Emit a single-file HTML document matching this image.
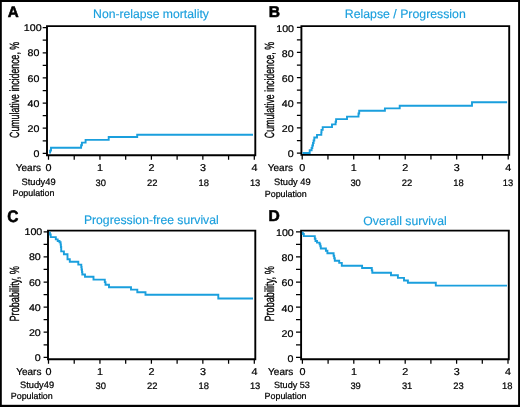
<!DOCTYPE html>
<html><head><meta charset="utf-8"><style>
html,body{margin:0;padding:0;background:#fff;width:520px;height:407px;overflow:hidden}
svg{display:block;will-change:transform}
text{font-family:"Liberation Sans",sans-serif;text-rendering:geometricPrecision}
</style></head><body>
<svg width="520" height="407" viewBox="0 0 520 407">
<rect width="520" height="407" fill="#fff"/>
<rect x="0" y="0" width="520" height="2.0" fill="#000"/>
<rect x="0" y="404.8" width="520" height="2.2" fill="#000"/>
<rect x="0" y="0" width="1.8" height="407" fill="#000"/>
<rect x="518.1" y="0" width="1.9" height="407" fill="#000"/>
<path d="M47.00 155.20V26.10H255.30V155.20Z" fill="none" stroke="#000" stroke-width="1.9" stroke-linejoin="miter"/>
<path d="M42.70 153.40H47.00M42.70 140.82H47.00M42.70 128.24H47.00M42.70 115.66H47.00M42.70 103.08H47.00M42.70 90.50H47.00M42.70 77.92H47.00M42.70 65.34H47.00M42.70 52.76H47.00M42.70 40.18H47.00M42.70 27.60H47.00M48.50 155.20V159.70M74.22 155.20V159.70M99.95 155.20V159.70M125.68 155.20V159.70M151.40 155.20V159.70M177.12 155.20V159.70M202.85 155.20V159.70M228.58 155.20V159.70M254.30 155.20V159.70" fill="none" stroke="#000" stroke-width="1.25"/>
<path d="M301.40 154.90V26.10H509.20V154.90Z" fill="none" stroke="#000" stroke-width="1.9" stroke-linejoin="miter"/>
<path d="M296.90 153.10H301.40M296.90 140.52H301.40M296.90 127.94H301.40M296.90 115.36H301.40M296.90 102.78H301.40M296.90 90.20H301.40M296.90 77.62H301.40M296.90 65.04H301.40M296.90 52.46H301.40M296.90 39.88H301.40M296.90 27.30H301.40M302.20 154.90V159.60M327.95 154.90V159.60M353.70 154.90V159.60M379.45 154.90V159.60M405.20 154.90V159.60M430.95 154.90V159.60M456.70 154.90V159.60M482.45 154.90V159.60M508.20 154.90V159.60" fill="none" stroke="#000" stroke-width="1.25"/>
<path d="M48.00 359.20V230.60H255.30V359.20Z" fill="none" stroke="#000" stroke-width="1.9" stroke-linejoin="miter"/>
<path d="M43.60 357.30H48.00M43.60 344.75H48.00M43.60 332.20H48.00M43.60 319.65H48.00M43.60 307.10H48.00M43.60 294.55H48.00M43.60 282.00H48.00M43.60 269.45H48.00M43.60 256.90H48.00M43.60 244.35H48.00M43.60 231.80H48.00M48.50 359.20V363.80M74.22 359.20V363.80M99.95 359.20V363.80M125.68 359.20V363.80M151.40 359.20V363.80M177.12 359.20V363.80M202.85 359.20V363.80M228.58 359.20V363.80M254.30 359.20V363.80" fill="none" stroke="#000" stroke-width="1.25"/>
<path d="M301.10 359.20V230.60H508.80V359.20Z" fill="none" stroke="#000" stroke-width="1.9" stroke-linejoin="miter"/>
<path d="M296.00 357.30H301.10M296.00 344.75H301.10M296.00 332.20H301.10M296.00 319.65H301.10M296.00 307.10H301.10M296.00 294.55H301.10M296.00 282.00H301.10M296.00 269.45H301.10M296.00 256.90H301.10M296.00 244.35H301.10M296.00 231.80H301.10M302.40 359.20V363.80M328.10 359.20V363.80M353.80 359.20V363.80M379.50 359.20V363.80M405.20 359.20V363.80M430.90 359.20V363.80M456.60 359.20V363.80M482.30 359.20V363.80M508.00 359.20V363.80" fill="none" stroke="#000" stroke-width="1.25"/>
<path d="M50.1 153.4V150.6H51.0V147.7H81.1V145.3H81.9V142.6H85.6V139.9H108.7V137.0H137.2V134.8H253" fill="none" stroke="#1a9fdd" stroke-width="1.9" stroke-linejoin="miter" stroke-linecap="butt"/>
<path d="M302.5 153.0H309.7V150.2H311.6V148H312.3V145.5H313V143H313.6V140.5H314.3V137.5H317V134.9H321.3V132.4H321.5V129.9H322.7V127.1H332V124.4H335.6V121.8H336.1V119.1H347V116.6H358.5V113.5H359.2V110.8H384.9V108.4H399.7V105.8H472V102.2H507.1" fill="none" stroke="#1a9fdd" stroke-width="1.9" stroke-linejoin="miter" stroke-linecap="butt"/>
<path d="M49.9 231.8V234.5H50.7V237.1H55.8V239.4H57.7V241.0H59.5V242.3H60.6V244.5H60.9V247H61.2V251.4H63.9V254.2H67.5V259.2H69.8V261.8H78.3V264.6H81.3V267H81.6V269.5H82V272H82.3V274.5H85V276.8H93.5V279.6H104.8V282.1H105.5V284.8H109V287.3H131V289.6H137.3V292.2H145.5V294.8H218.3V298.5H253" fill="none" stroke="#1a9fdd" stroke-width="1.9" stroke-linejoin="miter" stroke-linecap="butt"/>
<path d="M302.8 231.8V234H303.8V236.1H314.8V238.8H315.5V241H317V242.6H319.6V244.2H320.3V246.3H320.8V248.5H325.9V250.8H327.4V253.3H333.6V255.8H334.2V258.2H334.8V260.7H339.2V262.9H341.8V265.8H362.1V268.0H371.8V270.4H372.3V272.8H391V275.2H397.9V277.9H404V280.5H407.9V282.8H435.8V285.6H507" fill="none" stroke="#1a9fdd" stroke-width="1.9" stroke-linejoin="miter" stroke-linecap="butt"/>
<text x="7.8" y="17.3" font-size="15.2" text-anchor="start" fill="#000" font-weight="bold" stroke="#000" stroke-width="0.6" stroke-linejoin="round">A</text>
<text x="268.8" y="17.1" font-size="15.6" text-anchor="start" fill="#000" font-weight="bold" stroke="#000" stroke-width="0.6" stroke-linejoin="round">B</text>
<text transform="translate(7.3 221.9) scale(0.93 1)" font-size="16.6" text-anchor="start" fill="#000" font-weight="bold" stroke="#000" stroke-width="0.6" stroke-linejoin="round">C</text>
<text x="268.5" y="221.1" font-size="15.6" text-anchor="start" fill="#000" font-weight="bold" stroke="#000" stroke-width="0.6" stroke-linejoin="round">D</text>
<text x="151.0" y="17.9" font-size="12.2" text-anchor="middle" fill="#1a9fdd" stroke="#1a9fdd" stroke-width="0.15">Non-relapse mortality</text>
<text x="405.3" y="18.0" font-size="12.3" text-anchor="middle" fill="#1a9fdd" stroke="#1a9fdd" stroke-width="0.15">Relapse / Progression</text>
<text x="151.3" y="223.7" font-size="12.2" text-anchor="middle" fill="#1a9fdd" stroke="#1a9fdd" stroke-width="0.15">Progression-free survival</text>
<text x="405.0" y="224.5" font-size="12.2" text-anchor="middle" fill="#1a9fdd" stroke="#1a9fdd" stroke-width="0.15">Overall survival</text>
<text transform="translate(39.40 157.10) scale(1.1 1)" font-size="9.7" text-anchor="end" fill="#000" stroke="#000" stroke-width="0.22">0</text>
<text transform="translate(39.40 131.94) scale(1.1 1)" font-size="9.7" text-anchor="end" fill="#000" stroke="#000" stroke-width="0.22">20</text>
<text transform="translate(39.40 106.78) scale(1.1 1)" font-size="9.7" text-anchor="end" fill="#000" stroke="#000" stroke-width="0.22">40</text>
<text transform="translate(39.40 81.62) scale(1.1 1)" font-size="9.7" text-anchor="end" fill="#000" stroke="#000" stroke-width="0.22">60</text>
<text transform="translate(39.40 56.46) scale(1.1 1)" font-size="9.7" text-anchor="end" fill="#000" stroke="#000" stroke-width="0.22">80</text>
<text transform="translate(41.60 31.30) scale(1.1 1)" font-size="9.7" text-anchor="end" fill="#000" stroke="#000" stroke-width="0.22">100</text>
<text transform="translate(293.60 157.40) scale(1.1 1)" font-size="9.7" text-anchor="end" fill="#000" stroke="#000" stroke-width="0.22">0</text>
<text transform="translate(293.60 132.24) scale(1.1 1)" font-size="9.7" text-anchor="end" fill="#000" stroke="#000" stroke-width="0.22">20</text>
<text transform="translate(293.60 107.08) scale(1.1 1)" font-size="9.7" text-anchor="end" fill="#000" stroke="#000" stroke-width="0.22">40</text>
<text transform="translate(293.60 81.92) scale(1.1 1)" font-size="9.7" text-anchor="end" fill="#000" stroke="#000" stroke-width="0.22">60</text>
<text transform="translate(293.60 56.76) scale(1.1 1)" font-size="9.7" text-anchor="end" fill="#000" stroke="#000" stroke-width="0.22">80</text>
<text transform="translate(294.00 31.60) scale(1.1 1)" font-size="9.7" text-anchor="end" fill="#000" stroke="#000" stroke-width="0.22">100</text>
<text transform="translate(40.80 360.80) scale(1.1 1)" font-size="9.7" text-anchor="end" fill="#000" stroke="#000" stroke-width="0.22">0</text>
<text transform="translate(40.80 335.70) scale(1.1 1)" font-size="9.7" text-anchor="end" fill="#000" stroke="#000" stroke-width="0.22">20</text>
<text transform="translate(40.80 310.60) scale(1.1 1)" font-size="9.7" text-anchor="end" fill="#000" stroke="#000" stroke-width="0.22">40</text>
<text transform="translate(40.80 285.50) scale(1.1 1)" font-size="9.7" text-anchor="end" fill="#000" stroke="#000" stroke-width="0.22">60</text>
<text transform="translate(40.80 260.40) scale(1.1 1)" font-size="9.7" text-anchor="end" fill="#000" stroke="#000" stroke-width="0.22">80</text>
<text transform="translate(42.30 235.30) scale(1.1 1)" font-size="9.7" text-anchor="end" fill="#000" stroke="#000" stroke-width="0.22">100</text>
<text transform="translate(293.40 361.70) scale(1.1 1)" font-size="9.7" text-anchor="end" fill="#000" stroke="#000" stroke-width="0.22">0</text>
<text transform="translate(293.40 336.60) scale(1.1 1)" font-size="9.7" text-anchor="end" fill="#000" stroke="#000" stroke-width="0.22">20</text>
<text transform="translate(293.40 311.50) scale(1.1 1)" font-size="9.7" text-anchor="end" fill="#000" stroke="#000" stroke-width="0.22">40</text>
<text transform="translate(293.40 286.40) scale(1.1 1)" font-size="9.7" text-anchor="end" fill="#000" stroke="#000" stroke-width="0.22">60</text>
<text transform="translate(293.40 261.30) scale(1.1 1)" font-size="9.7" text-anchor="end" fill="#000" stroke="#000" stroke-width="0.22">80</text>
<text transform="translate(293.80 236.20) scale(1.1 1)" font-size="9.7" text-anchor="end" fill="#000" stroke="#000" stroke-width="0.22">100</text>
<text transform="translate(48.60 171.10) scale(1.08 1)" font-size="10" text-anchor="middle" fill="#000" stroke="#000" stroke-width="0.22">0</text>
<text transform="translate(100.05 171.10) scale(1.08 1)" font-size="10" text-anchor="middle" fill="#000" stroke="#000" stroke-width="0.22">1</text>
<text transform="translate(151.50 171.10) scale(1.08 1)" font-size="10" text-anchor="middle" fill="#000" stroke="#000" stroke-width="0.22">2</text>
<text transform="translate(202.95 171.10) scale(1.08 1)" font-size="10" text-anchor="middle" fill="#000" stroke="#000" stroke-width="0.22">3</text>
<text transform="translate(254.40 171.10) scale(1.08 1)" font-size="10" text-anchor="middle" fill="#000" stroke="#000" stroke-width="0.22">4</text>
<text x="100.75" y="185.70" font-size="9.4" text-anchor="middle" fill="#000" stroke="#000" stroke-width="0.22">30</text>
<text x="152.20" y="185.70" font-size="9.4" text-anchor="middle" fill="#000" stroke="#000" stroke-width="0.22">22</text>
<text x="203.65" y="185.70" font-size="9.4" text-anchor="middle" fill="#000" stroke="#000" stroke-width="0.22">18</text>
<text x="255.10" y="185.70" font-size="9.4" text-anchor="middle" fill="#000" stroke="#000" stroke-width="0.22">13</text>
<text transform="translate(302.30 171.10) scale(1.08 1)" font-size="10" text-anchor="middle" fill="#000" stroke="#000" stroke-width="0.22">0</text>
<text transform="translate(353.80 171.10) scale(1.08 1)" font-size="10" text-anchor="middle" fill="#000" stroke="#000" stroke-width="0.22">1</text>
<text transform="translate(405.30 171.10) scale(1.08 1)" font-size="10" text-anchor="middle" fill="#000" stroke="#000" stroke-width="0.22">2</text>
<text transform="translate(456.80 171.10) scale(1.08 1)" font-size="10" text-anchor="middle" fill="#000" stroke="#000" stroke-width="0.22">3</text>
<text transform="translate(508.30 171.10) scale(1.08 1)" font-size="10" text-anchor="middle" fill="#000" stroke="#000" stroke-width="0.22">4</text>
<text x="355.60" y="185.70" font-size="9.4" text-anchor="middle" fill="#000" stroke="#000" stroke-width="0.22">30</text>
<text x="407.00" y="185.70" font-size="9.4" text-anchor="middle" fill="#000" stroke="#000" stroke-width="0.22">22</text>
<text x="458.50" y="185.70" font-size="9.4" text-anchor="middle" fill="#000" stroke="#000" stroke-width="0.22">18</text>
<text x="507.90" y="185.70" font-size="9.4" text-anchor="middle" fill="#000" stroke="#000" stroke-width="0.22">13</text>
<text transform="translate(48.60 375.20) scale(1.08 1)" font-size="10" text-anchor="middle" fill="#000" stroke="#000" stroke-width="0.22">0</text>
<text transform="translate(100.05 375.20) scale(1.08 1)" font-size="10" text-anchor="middle" fill="#000" stroke="#000" stroke-width="0.22">1</text>
<text transform="translate(151.50 375.20) scale(1.08 1)" font-size="10" text-anchor="middle" fill="#000" stroke="#000" stroke-width="0.22">2</text>
<text transform="translate(202.95 375.20) scale(1.08 1)" font-size="10" text-anchor="middle" fill="#000" stroke="#000" stroke-width="0.22">3</text>
<text transform="translate(254.40 375.20) scale(1.08 1)" font-size="10" text-anchor="middle" fill="#000" stroke="#000" stroke-width="0.22">4</text>
<text x="100.75" y="388.70" font-size="9.4" text-anchor="middle" fill="#000" stroke="#000" stroke-width="0.22">30</text>
<text x="152.20" y="388.70" font-size="9.4" text-anchor="middle" fill="#000" stroke="#000" stroke-width="0.22">22</text>
<text x="203.65" y="388.70" font-size="9.4" text-anchor="middle" fill="#000" stroke="#000" stroke-width="0.22">18</text>
<text x="255.10" y="388.70" font-size="9.4" text-anchor="middle" fill="#000" stroke="#000" stroke-width="0.22">13</text>
<text transform="translate(302.50 375.20) scale(1.08 1)" font-size="10" text-anchor="middle" fill="#000" stroke="#000" stroke-width="0.22">0</text>
<text transform="translate(353.90 375.20) scale(1.08 1)" font-size="10" text-anchor="middle" fill="#000" stroke="#000" stroke-width="0.22">1</text>
<text transform="translate(405.30 375.20) scale(1.08 1)" font-size="10" text-anchor="middle" fill="#000" stroke="#000" stroke-width="0.22">2</text>
<text transform="translate(456.70 375.20) scale(1.08 1)" font-size="10" text-anchor="middle" fill="#000" stroke="#000" stroke-width="0.22">3</text>
<text transform="translate(508.10 375.20) scale(1.08 1)" font-size="10" text-anchor="middle" fill="#000" stroke="#000" stroke-width="0.22">4</text>
<text x="355.60" y="388.70" font-size="9.4" text-anchor="middle" fill="#000" stroke="#000" stroke-width="0.22">39</text>
<text x="407.10" y="388.70" font-size="9.4" text-anchor="middle" fill="#000" stroke="#000" stroke-width="0.22">31</text>
<text x="458.40" y="388.70" font-size="9.4" text-anchor="middle" fill="#000" stroke="#000" stroke-width="0.22">23</text>
<text x="507.30" y="388.70" font-size="9.4" text-anchor="middle" fill="#000" stroke="#000" stroke-width="0.22">18</text>
<text x="41.0" y="170.8" font-size="10" text-anchor="end" fill="#000" stroke="#000" stroke-width="0.22">Years</text>
<text x="293.0" y="170.8" font-size="10" text-anchor="end" fill="#000" stroke="#000" stroke-width="0.22">Years</text>
<text x="41.4" y="374.9" font-size="10" text-anchor="end" fill="#000" stroke="#000" stroke-width="0.22">Years</text>
<text x="293.3" y="374.9" font-size="10" text-anchor="end" fill="#000" stroke="#000" stroke-width="0.22">Years</text>
<text x="21.5" y="185.3" font-size="9.3" text-anchor="start" fill="#000" stroke="#000" stroke-width="0.22">Study49</text>
<text x="274.0" y="185.2" font-size="9.3" text-anchor="start" fill="#000" stroke="#000" stroke-width="0.22">Study 49</text>
<text x="20.0" y="388.3" font-size="9.3" text-anchor="start" fill="#000" stroke="#000" stroke-width="0.22">Study49</text>
<text x="274.0" y="388.2" font-size="9.1" text-anchor="start" fill="#000" stroke="#000" stroke-width="0.22">Study 53</text>
<text x="12.5" y="196.4" font-size="8.9" text-anchor="start" fill="#000" stroke="#000" stroke-width="0.22">Population</text>
<text x="264.8" y="196.7" font-size="8.9" text-anchor="start" fill="#000" stroke="#000" stroke-width="0.22">Population</text>
<text x="10.8" y="399.1" font-size="8.9" text-anchor="start" fill="#000" stroke="#000" stroke-width="0.22">Population</text>
<text x="264.6" y="399.1" font-size="8.9" text-anchor="start" fill="#000" stroke="#000" stroke-width="0.22">Population</text>
<text transform="translate(19.2 89.9) rotate(-90) scale(0.66 1)" x="0" y="0" font-size="13.3" text-anchor="middle" stroke="#000" stroke-width="0.32">Cumulative incidence, %</text>
<text transform="translate(273.7 90.1) rotate(-90) scale(0.66 1)" x="0" y="0" font-size="13.3" text-anchor="middle" stroke="#000" stroke-width="0.32">Cumulative incidence, %</text>
<text transform="translate(19.4 293.8) rotate(-90) scale(0.69 1)" x="0" y="0" font-size="13.3" text-anchor="middle" stroke="#000" stroke-width="0.32">Probability, %</text>
<text transform="translate(273.5 293.9) rotate(-90) scale(0.69 1)" x="0" y="0" font-size="13.3" text-anchor="middle" stroke="#000" stroke-width="0.32">Probability, %</text>
</svg>
</body></html>
